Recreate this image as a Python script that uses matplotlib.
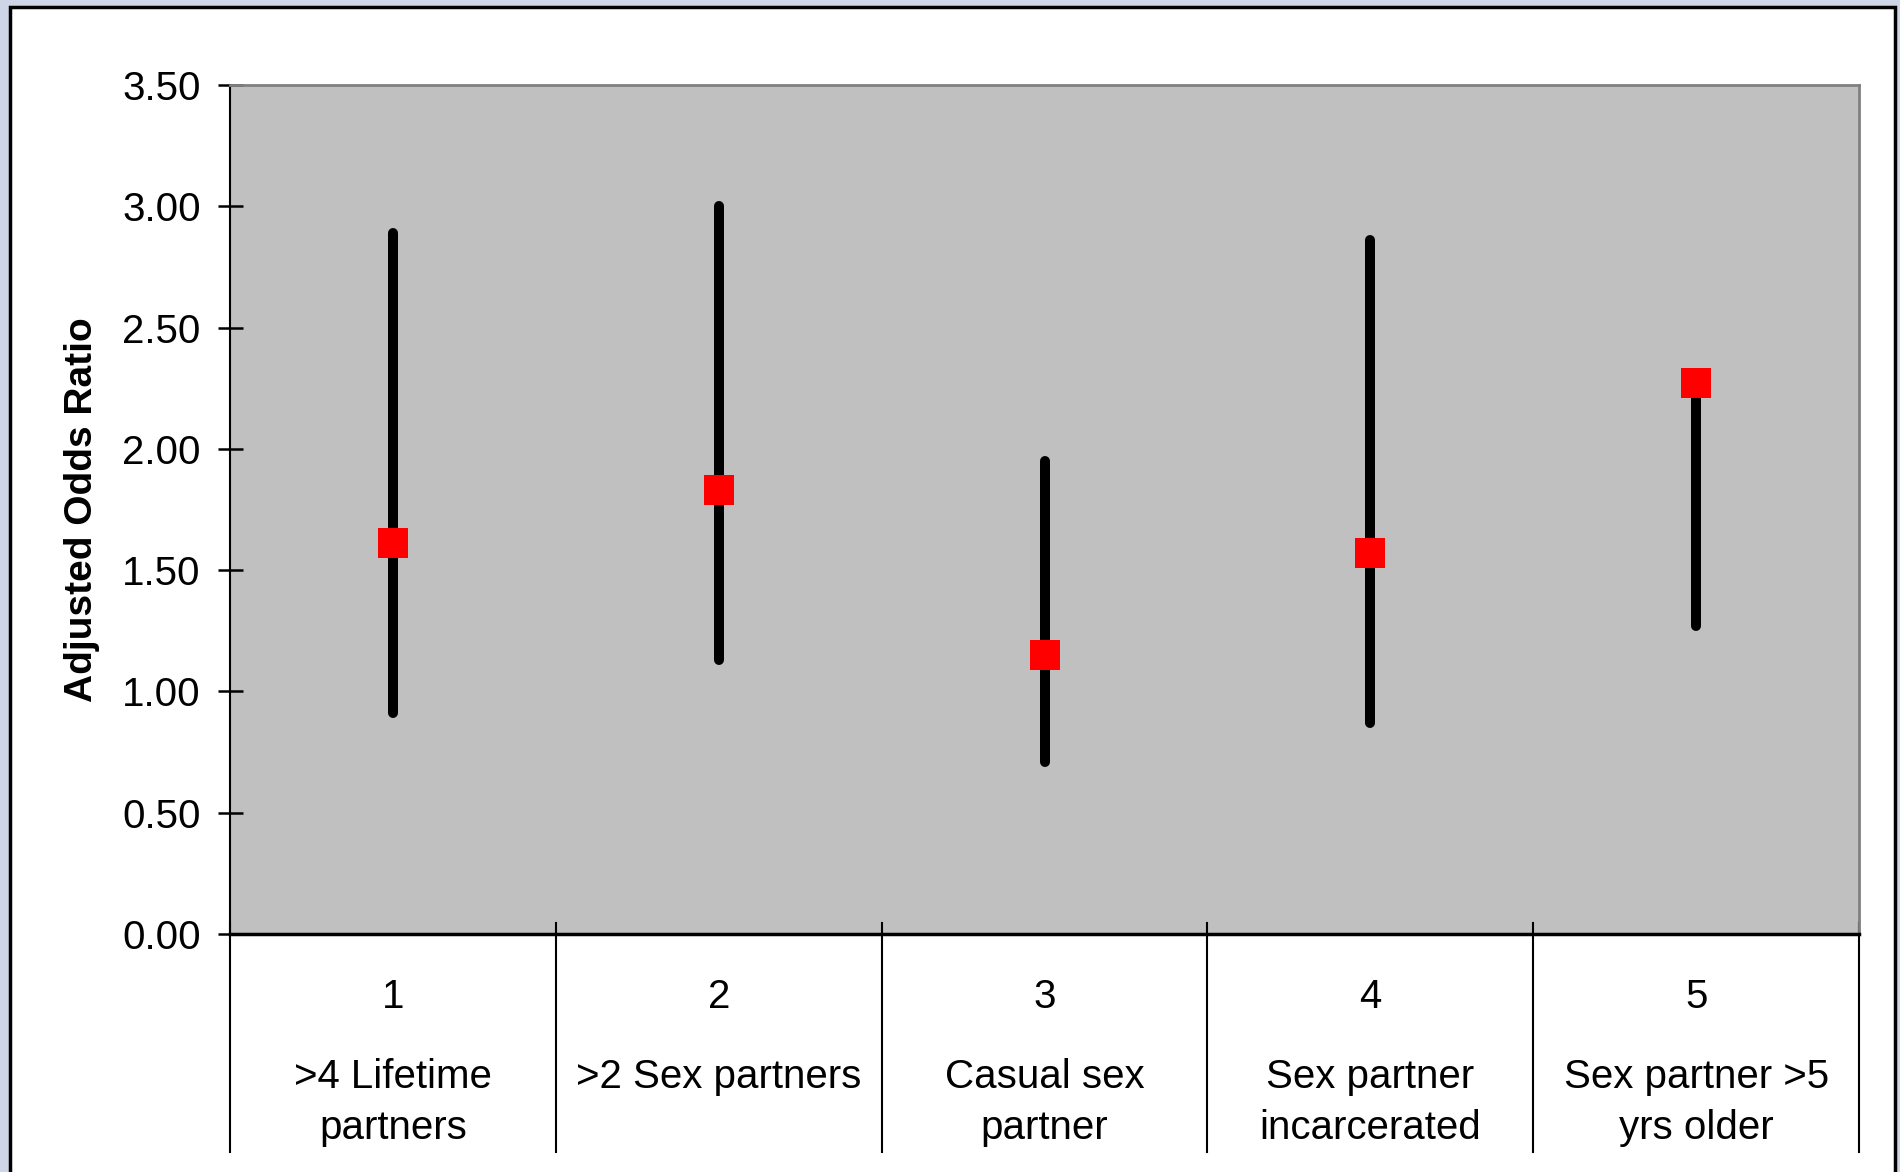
import matplotlib.pyplot as plt
from matplotlib.patches import Rectangle
from matplotlib.ticker import FormatStrFormatter

# Values
category_numbers = ["1", "2", "3", "4", "5"]
category_labels = [
    ">4 Lifetime\npartners",
    ">2 Sex partners",
    "Casual sex\npartner",
    "Sex partner\nincarcerated",
    "Sex partner >5\nyrs older",
]
odds_ratio = [1.61, 1.83, 1.15, 1.57, 2.27]
ci_low = [0.91, 1.13, 0.71, 0.87, 1.27]
ci_high = [2.89, 3.00, 1.95, 2.86, 2.27]
y_ticks = [0.0, 0.5, 1.0, 1.5, 2.0, 2.5, 3.0, 3.5]

plt.rcParams["font.family"] = ["Liberation Sans", "DejaVu Sans"]

W, H = 1900, 1172
fig = plt.figure(figsize=(W / 100, H / 100), dpi=100, facecolor="#cdd5e6")

# white slide panel with black frame (behind the axes)
panel = Rectangle((10 / W, -0.02), 1885 / W, 1.02 - 7 / H, transform=fig.transFigure,
                  facecolor="white", edgecolor="black", linewidth=2.5, zorder=-10)
fig.patches.append(panel)

ax = fig.add_axes([230 / W, 1 - 934 / H, 1629 / W, 849 / H])
ax.set_zorder(1)
ax.set_facecolor("#c0c0c0")

x = list(range(1, len(odds_ratio) + 1))
ax.vlines(x, ci_low, ci_high, color="black", linewidth=7.2, capstyle="round", zorder=2)
ax.plot(x, odds_ratio, "s", color="#ff0000", markersize=22, markeredgewidth=0, zorder=3)

ax.set_xlim(0.5, 5.5)
ax.set_ylim(0, 3.5)
ax.set_yticks(y_ticks)
ax.yaxis.set_major_formatter(FormatStrFormatter("%.2f"))
ax.tick_params(axis="y", direction="inout", length=18, width=1.8, pad=12, labelsize=29)
ax.set_xticks([])

for side in ("top", "right"):
    ax.spines[side].set_color("#808080")
    ax.spines[side].set_linewidth(2)
ax.spines["left"].set_linewidth(1.5)
ax.spines["bottom"].set_linewidth(2.5)

ax.set_ylabel("Adjusted Odds Ratio", fontsize=28, fontweight="bold")
ax.yaxis.set_label_coords(-0.08, 0.5)

# category table below the axis
trans = ax.get_xaxis_transform()
for b in [i + 0.5 for i in range(0, len(x) + 1)]:
    ax.plot([b, b], [0.013, -0.257], color="black", linewidth=1.5,
            transform=trans, clip_on=False)

for xi, num, lab in zip(x, category_numbers, category_labels):
    ax.text(xi, -0.087, num, transform=trans, ha="center", va="baseline", fontsize=29)
    for k, line in enumerate(lab.split("\n")):
        ax.text(xi, -0.181 - k * 0.061, line, transform=trans, ha="center",
                va="baseline", fontsize=29)

fig.savefig("out.png", dpi=100, facecolor=fig.get_facecolor())
